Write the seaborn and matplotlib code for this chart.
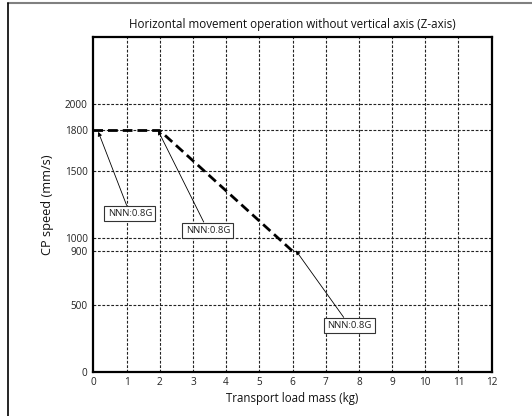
import matplotlib
matplotlib.use("Agg")
import matplotlib.pyplot as plt
from matplotlib.lines import Line2D
import seaborn as sns
import pandas as pd

# Data
mass_kg = [0, 2, 6]
speed_mm_s = [1800, 1800, 900]
x_ticks = [0, 1, 2, 3, 4, 5, 6, 7, 8, 9, 10, 11, 12]
y_ticks = [0, 500, 900, 1000, 1500, 1800, 2000]
annot_labels = ["NNN:0.8G", "NNN:0.8G", "NNN:0.8G"]
annot_targets = [(0.15, 1790), (1.95, 1800), (6.1, 905)]
annot_text_pos = [(1.1, 1180), (3.45, 1055), (7.72, 344)]

sns.set_theme(style="white")
plt.rcParams['font.family'] = ['Open Sans', 'DejaVu Sans']

fig = plt.figure(figsize=(5.32, 4.16), dpi=100)
ax = fig.add_axes([93.3/532, 1-371.7/416, (491.7-93.3)/532, (371.7-36.7)/416])

df = pd.DataFrame({"mass": mass_kg, "speed": speed_mm_s})
sns.lineplot(data=df, x="mass", y="speed", ax=ax, color="black",
             linewidth=2.0, linestyle=(0, (3.5, 1.8)))

ax.set_xlim(0, 12)
ax.set_ylim(0, 2500)
ax.set_xticks(x_ticks)
ax.set_yticks(y_ticks)
ax.tick_params(axis='both', length=0, labelsize=7.2, pad=4, colors='#222222')

for xv in x_ticks[1:-1]:
    ax.axvline(xv, color='#222222', lw=0.8, ls=(0, (2.5, 1.5)), zorder=0)
for yv in y_ticks[1:]:
    ax.axhline(yv, color='#222222', lw=0.8, ls=(0, (2.5, 1.5)), zorder=0)

for s in ax.spines.values():
    s.set_linewidth(1.6)
    s.set_color('black')

ax.set_title("Horizontal movement operation without vertical axis (Z-axis)",
             fontsize=8.4, pad=6, color='#111111')
ax.set_xlabel("Transport load mass (kg)", fontsize=8.3, labelpad=3, color='#111111')
ax.set_ylabel("CP speed (mm/s)", fontsize=9.2, labelpad=8, color='#111111')

for lab, tgt, pos in zip(annot_labels, annot_targets, annot_text_pos):
    ax.annotate(lab, xy=tgt, xytext=pos, fontsize=6.8, ha='center', va='center',
                color='#222222',
                bbox=dict(boxstyle='square,pad=0.35', fc='white', ec='#333333', lw=0.8),
                arrowprops=dict(arrowstyle='-|>', color='black', lw=0.6,
                                mutation_scale=6, shrinkA=0, shrinkB=0))

# outer frame lines
fig.add_artist(Line2D([8/532, 1], [1-2.5/416, 1-2.5/416], color='#808080', lw=1.5,
                      transform=fig.transFigure))
fig.add_artist(Line2D([8/532, 8/532], [0, 1-2.5/416], color='black', lw=1.2,
                      transform=fig.transFigure))

fig.savefig("out.png", dpi=100)
